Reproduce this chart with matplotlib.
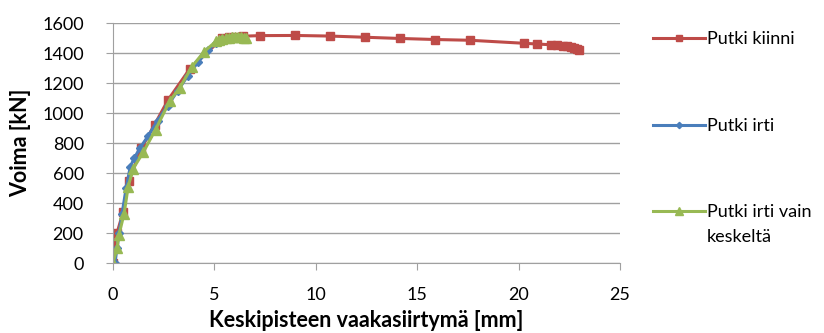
import matplotlib.pyplot as plt

plt.rcParams['font.family'] = ['Lato', 'DejaVu Sans']

# Putki kiinni (red, squares)
red_x = [0, 0.05, 0.2, 0.5, 0.78, 1.4, 2.05, 2.72, 3.78, 5.4, 5.7, 6.0, 6.4, 7.25,
         9.0, 10.7, 12.45, 14.15, 15.9, 17.6, 20.25, 20.9, 21.6, 21.9, 22.2, 22.4,
         22.6, 22.75, 22.9, 23.0]
red_y = [0, 110, 200, 340, 545, 765, 922, 1088, 1293, 1500, 1505, 1508, 1512, 1516,
         1517, 1513, 1505, 1497, 1490, 1485, 1465, 1460, 1455, 1452, 1448, 1445,
         1440, 1435, 1428, 1420]

# Putki irti (blue, diamonds)
blue_x = [0.1, 0.2, 0.3, 0.45, 0.65, 0.85, 1.05, 1.35, 1.75, 2.2, 2.7, 3.2, 3.7,
          4.2, 4.7, 5.1, 5.4]
blue_y = [0, 100, 200, 330, 500, 640, 700, 770, 850, 950, 1050, 1150, 1250,
          1340, 1420, 1470, 1495]

# Putki irti vain keskeltä (green, triangles)
green_x = [0, 0.2, 0.3, 0.55, 0.75, 1.0, 1.5, 2.1, 2.8, 3.3, 3.9, 4.5, 5.1, 5.25,
           5.4, 5.55, 5.7, 5.85, 6.0, 6.15, 6.3, 6.45, 6.55]
green_y = [0, 100, 190, 330, 510, 630, 740, 890, 1080, 1170, 1310, 1410, 1480, 1490,
           1495, 1498, 1502, 1508, 1510, 1508, 1505, 1502, 1500]

x_ticks = [0, 5, 10, 15, 20, 25]
y_ticks = [0, 200, 400, 600, 800, 1000, 1200, 1400, 1600]

fig = plt.figure(figsize=(8.24, 3.33), dpi=100)
ax = fig.add_axes([0.1371, 0.2102, 0.6153, 0.7207])

ax.plot(red_x, red_y, color='#BE4B48', lw=2.2, marker='s', ms=6, label='Putki kiinni')
ax.plot(blue_x, blue_y, color='#4A7EBB', lw=2.2, marker='D', ms=4, label='Putki irti')
ax.plot(green_x, green_y, color='#98B954', lw=2.2, marker='^', ms=6.5,
        label='Putki irti vain')

ax.set_xlim(0, 25)
ax.set_ylim(0, 1600)
ax.set_xticks(x_ticks)
ax.set_yticks(y_ticks)
ax.yaxis.grid(True, color='#A0A0A0', lw=1)
ax.set_axisbelow(True)
for s in ['top', 'right']:
    ax.spines[s].set_visible(False)
for s in ['left', 'bottom']:
    ax.spines[s].set_color('#A0A0A0')
ax.tick_params(axis='both', colors='#A0A0A0', labelcolor='black', labelsize=13,
               length=5, direction='out')
ax.tick_params(axis='x', pad=12)
ax.tick_params(axis='y', pad=16)

ax.set_xlabel('Keskipisteen vaakasiirtymä [mm]', fontsize=15.5, fontweight='bold', labelpad=5)
ax.set_ylabel('Voima [kN]', fontsize=15.5, fontweight='bold', labelpad=8)

leg = ax.legend(loc='upper left', bbox_to_anchor=(1.05, 0.995), frameon=False, fontsize=13,
                handlelength=2.9, handletextpad=0.1, labelspacing=3.9, borderaxespad=0,
                markerscale=0.8)

# second line of the last legend label, placed under its first line
fig.canvas.draw()
bb = leg.get_texts()[2].get_window_extent().transformed(fig.transFigure.inverted())
fig.text(bb.x0, bb.y0 - 25 / 333, 'keskeltä', fontsize=13, va='bottom', ha='left')

fig.savefig('out.png', dpi=100)
